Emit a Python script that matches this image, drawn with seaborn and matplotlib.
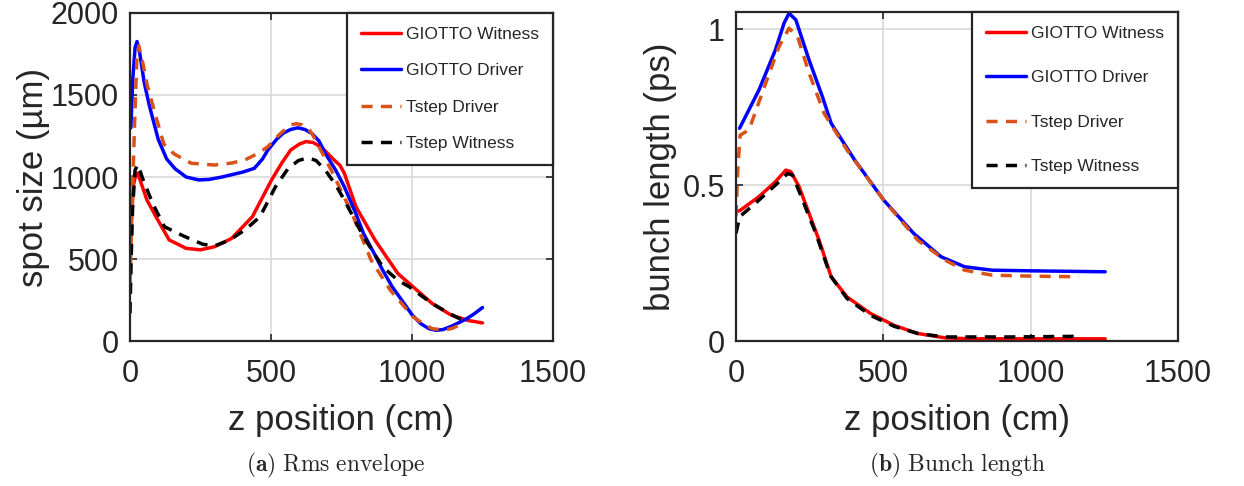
import numpy as np
import pandas as pd
import matplotlib
matplotlib.use("Agg")
import matplotlib.pyplot as plt
import seaborn as sns

# ---------------- data ----------------
series_names = ["GIOTTO Witness", "GIOTTO Driver", "Tstep Driver", "Tstep Witness"]

# (a) Rms envelope: z (cm) vs spot size (um)
a_gw_x = [5, 12, 20, 27, 40, 60, 92, 139, 199, 250, 300, 360, 434, 502, 540, 570, 600, 624, 650, 680, 720, 745, 760, 801, 869, 950, 1004, 1072, 1140, 1200, 1250]
a_gw_y = [738, 950, 1010, 1023, 960, 860, 758, 616, 565, 556, 575, 625, 758, 982, 1090, 1165, 1200, 1216, 1210, 1180, 1110, 1070, 1023, 819, 615, 411, 330, 228, 157, 125, 110]

a_gd_x = [3, 10, 18, 25, 35, 50, 68, 100, 130, 160, 199, 244, 280, 326, 400, 441, 470, 489, 520, 543, 570, 595, 620, 645, 670, 692, 730, 760, 800, 828, 870, 896, 930, 964, 1000, 1031, 1060, 1086, 1110, 1140, 1170, 1194, 1220, 1250]
a_gd_y = [1300, 1600, 1790, 1826, 1750, 1580, 1440, 1230, 1110, 1050, 1000, 982, 985, 1000, 1030, 1053, 1110, 1165, 1230, 1267, 1290, 1300, 1290, 1265, 1220, 1145, 1040, 941, 780, 656, 520, 432, 330, 248, 160, 106, 75, 65, 70, 90, 115, 136, 165, 204]

a_td_x = [0, 7, 16, 24, 31, 45, 61, 92, 120, 157, 217, 260, 299, 360, 407, 450, 489, 530, 570, 590, 611, 635, 651, 690, 719, 787, 855, 923, 1004, 1040, 1072, 1110, 1140, 1180]
a_td_y = [352, 800, 1307, 1714, 1800, 1700, 1560, 1368, 1200, 1140, 1084, 1078, 1073, 1085, 1104, 1140, 1185, 1260, 1318, 1325, 1318, 1290, 1247, 1120, 1023, 778, 493, 310, 147, 105, 75, 68, 75, 106]

a_tw_x = [0, 4, 9, 18, 28, 45, 80, 122, 190, 258, 300, 353, 410, 461, 516, 560, 597, 620, 638, 660, 692, 730, 760, 828, 896, 950, 991, 1030, 1072, 1120, 1167, 1190]
a_tw_y = [169, 494, 800, 1043, 1075, 990, 840, 697, 640, 590, 580, 615, 680, 758, 941, 1050, 1100, 1112, 1114, 1100, 1043, 950, 860, 636, 452, 370, 330, 280, 228, 180, 137, 120]

# (b) Bunch length: z (cm) vs bunch length (ps)
b_gw_x = [2, 13, 78, 134, 169, 186, 214, 248, 282, 323, 377, 457, 537, 617, 710, 803, 1000, 1253]
b_gw_y = [0.416, 0.418, 0.463, 0.511, 0.548, 0.543, 0.495, 0.409, 0.323, 0.206, 0.141, 0.088, 0.050, 0.024, 0.010, 0.007, 0.007, 0.007]

b_gd_x = [12, 78, 134, 163, 180, 203, 248, 293, 323, 403, 501, 603, 696, 776, 870, 1003, 1253]
b_gd_y = [0.682, 0.805, 0.934, 1.019, 1.051, 1.030, 0.901, 0.784, 0.698, 0.580, 0.452, 0.345, 0.270, 0.238, 0.227, 0.225, 0.222]

b_td_x = [0, 6, 14, 44, 101, 146, 180, 209, 248, 299, 377, 501, 617, 710, 776, 870, 1003, 1163]
b_td_y = [0.40, 0.55, 0.66, 0.677, 0.827, 0.944, 1.003, 0.976, 0.859, 0.730, 0.612, 0.452, 0.323, 0.259, 0.227, 0.211, 0.208, 0.206]

b_tw_x = [0, 12, 78, 134, 175, 192, 226, 271, 310, 323, 377, 457, 537, 617, 710, 936, 1163]
b_tw_y = [0.345, 0.398, 0.452, 0.500, 0.537, 0.532, 0.452, 0.345, 0.238, 0.206, 0.136, 0.082, 0.047, 0.024, 0.013, 0.013, 0.015]

x_ticks = [0, 500, 1000, 1500]
a_y_ticks = [0, 500, 1000, 1500, 2000]
b_y_ticks = [0, 0.5, 1]
b_y_ticklabels = ["0", "0.5", "1"]

x_label = "z position (cm)"
a_y_label = "spot size (\u00b5m)"
b_y_label = "bunch length (ps)"
caption_a = r"$\mathbf{(a)}\ \mathrm{Rms\ envelope}$"
caption_b = r"$\mathbf{(b)}\ \mathrm{Bunch\ length}$"

# ---------------- style ----------------
sns.set_style("ticks")
plt.rcParams["font.family"] = ["Liberation Sans", "DejaVu Sans"]
plt.rcParams["mathtext.fontset"] = "cm"

colors = ["#ff0000", "#0000ff", "#d95319", "#000000"]
styles = ["-", "-", (0, (3.2, 2.4)), (0, (3.2, 2.4))]
spine_col = "#262626"

fig = plt.figure(figsize=(12.44, 4.86), dpi=100)
ax_a = fig.add_axes([130 / 1244, (486 - 341) / 486, 423 / 1244, 328 / 486])
ax_b = fig.add_axes([736 / 1244, (486 - 341) / 486, 442 / 1244, 329 / 486])


def draw(ax, data, lspace):
    for (xs, ys), name, c, ls in zip(data, series_names, colors, styles):
        df = pd.DataFrame({"z": xs, "v": ys})
        sns.lineplot(data=df, x="z", y="v", ax=ax, color=c, linestyle=ls,
                     linewidth=2.5, label=name, estimator=None, sort=False)
    for ln in ax.lines:
        ln.set_solid_joinstyle("round")
        ln.set_dash_joinstyle("round")
    ax.grid(True, color="#dcdcdc", linewidth=1.3)
    ax.set_axisbelow(True)
    for s in ax.spines.values():
        s.set_color(spine_col)
        s.set_linewidth(1.6)
    ax.tick_params(direction="in", length=5, width=1.2, colors=spine_col,
                   labelcolor="#262626", labelsize=22, top=True, right=True)
    ax.tick_params(axis="x", pad=13)
    ax.tick_params(axis="y", pad=8)
    leg = ax.legend(loc="upper right", borderaxespad=0, frameon=True,
                    fancybox=False, edgecolor=spine_col, framealpha=1,
                    fontsize=12.5, handlelength=2.3, handletextpad=0.3,
                    labelspacing=lspace, borderpad=0.8)
    leg.get_frame().set_linewidth(1.6)
    return leg


draw(ax_a, [(a_gw_x, a_gw_y), (a_gd_x, a_gd_y), (a_td_x, a_td_y), (a_tw_x, a_tw_y)], 1.22)
draw(ax_b, [(b_gw_x, b_gw_y), (b_gd_x, b_gd_y), (b_td_x, b_td_y), (b_tw_x, b_tw_y)], 1.68)

ax_a.set_xlim(0, 1500)
ax_a.set_ylim(0, 2000)
ax_a.set_xticks(x_ticks)
ax_a.set_yticks(a_y_ticks)

ax_b.set_xlim(0, 1500)
ax_b.set_ylim(0, 1.055)
ax_b.set_xticks(x_ticks)
ax_b.set_yticks(b_y_ticks, b_y_ticklabels)

for ax, yl, yx in ((ax_a, a_y_label, -0.229), (ax_b, b_y_label, -0.170)):
    ax.set_xlabel(x_label, fontsize=25, color="#262626")
    ax.set_ylabel(yl, fontsize=25, color="#262626")
    ax.xaxis.set_label_coords(0.5, (341 - 420) / 328)
    ax.xaxis.label.set_va("center")
    ax.yaxis.set_label_coords(yx, 0.5)
    ax.yaxis.label.set_va("center")

fig.text(336 / 1244, 0.043, caption_a, fontsize=17, ha="center", va="center")
fig.text(958 / 1244, 0.043, caption_b, fontsize=17, ha="center", va="center")

fig.savefig("out.png", dpi=100, facecolor="white")
